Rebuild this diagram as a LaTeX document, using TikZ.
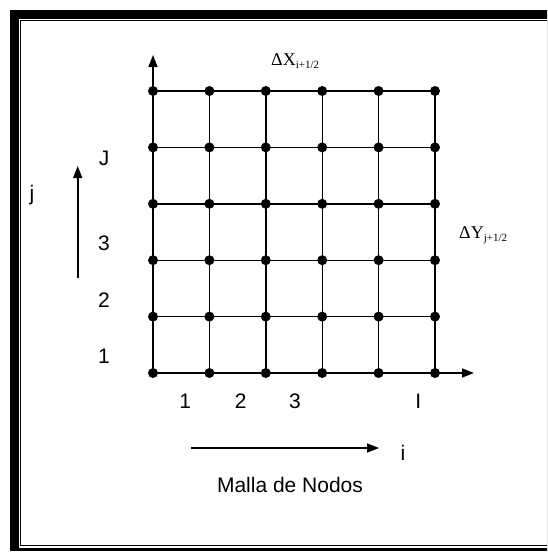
\documentclass[tikz,border=0pt]{standalone}
\usepackage{fontspec}
\setmainfont{Liberation Sans}
\newfontfamily\serifx{Liberation Serif}
\usetikzlibrary{arrows.meta}
\begin{document}
\begin{tikzpicture}[x=1pt,y=-1pt,
  dot/.style={circle,fill=black,inner sep=0pt,minimum size=10pt},
  lbl/.style={font=\fontsize{21}{21}\selectfont,inner sep=0pt,anchor=base},
  dlbl/.style={font=\serifx\fontsize{18}{18}\selectfont,inner sep=0pt,anchor=base west},
  gridline/.style={line width=1.4pt},
  axarrow/.style={line width=1.6pt,-{Triangle[length=12pt,width=9pt]}}]
\useasboundingbox (0,0) rectangle (547,552);
\clip (0,0) rectangle (547,552);
% frame
\fill[black] (10,10) rectangle (600,551);
\fill[white] (19,19) rectangle (600,548);
\draw[line width=1.2pt] (20.6,20.6) rectangle (620,545.6);
% nodes
\foreach \i in {0,...,5}{
  \foreach \j in {0,...,5}{
    \node[dot] (n\i\j) at ({153+56.4*\i},{373-56.4*\j}) {};
  }
}
\foreach \i in {0,...,5}{
  \draw[gridline] (n\i0.center) -- (n\i5.center);
  \draw[gridline] (n0\i.center) -- (n5\i.center);
}
% axes
\coordinate (ytip) at (153,55);
\coordinate (xtip) at (474,373);
\draw[axarrow] (n05.center) -- (ytip);
\draw[axarrow] (n50.center) -- (xtip);
% direction arrows
\coordinate (ja) at (77.7,278);
\coordinate (jb) at (77.7,166);
\draw[axarrow] (ja) -- (jb);
\coordinate (ia) at (191,448);
\coordinate (ib) at (379,448);
\draw[axarrow] (ia) -- (ib);
% labels
\node[lbl] (b1) at (185.3,408) {1};
\node[lbl] (b2) at (240.7,408) {2};
\node[lbl] (b3) at (295,408) {3};
\node[lbl] (bI) at (418.3,408) {I};
\node[lbl] (l1) at (104,363) {1};
\node[lbl] (l2) at (104,307) {2};
\node[lbl] (l3) at (104,250) {3};
\node[lbl] (lJ) at (104,165) {J};
\node[lbl] (lj) at (32,200) {j};
\node[lbl] (li) at (403,460) {i};
\node[lbl] (malla) at (290,492) {Malla de Nodos};
\node[dlbl] (dx) at (271,65) {ΔX\raisebox{-3pt}{\fontsize{11}{11}\selectfont i+1/2}};
\node[dlbl] (dy) at (459,238) {ΔY\raisebox{-3pt}{\fontsize{11}{11}\selectfont j+1/2}};
\end{tikzpicture}
\end{document}
